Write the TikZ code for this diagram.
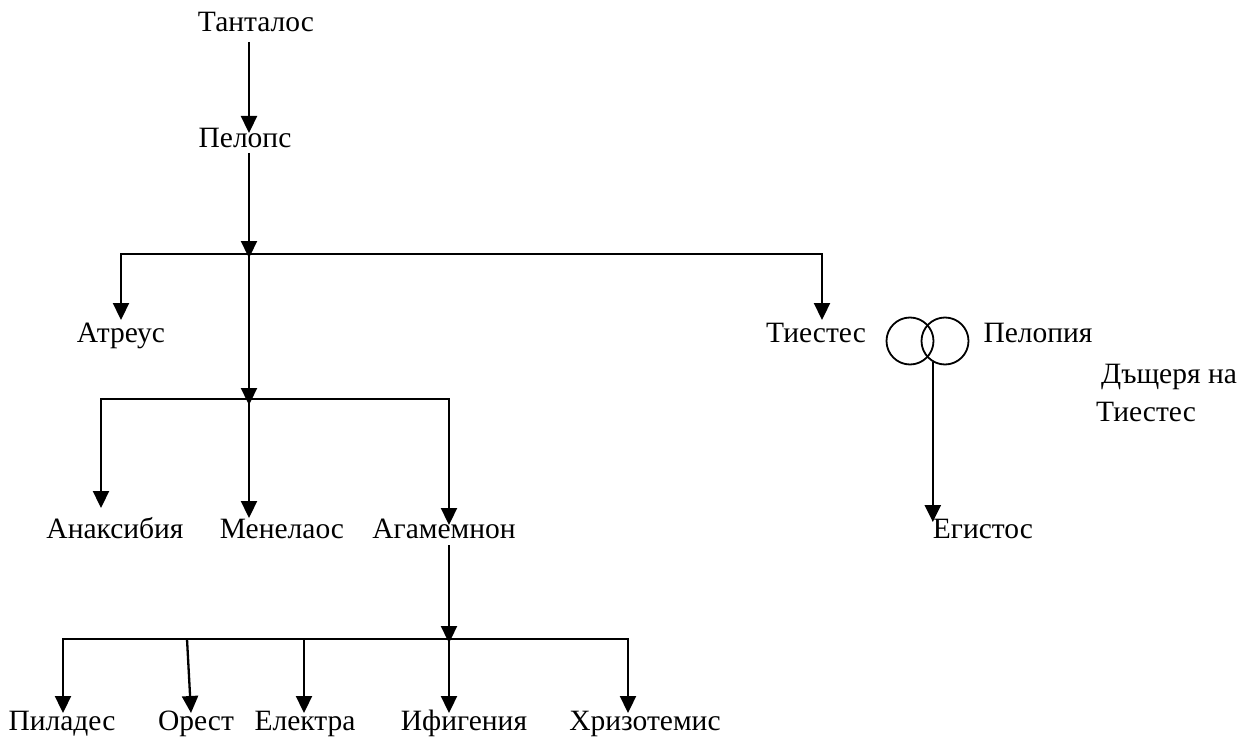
\documentclass[tikz,border=0pt]{standalone}
\usepackage{fontspec}
\setmainfont{Liberation Serif}
\usetikzlibrary{arrows.meta,calc}
\begin{document}
\begin{tikzpicture}[x=1pt,y=-1pt,
  lbl/.style={inner sep=0pt, anchor=base, font=\fontsize{29.5}{34}\selectfont},
  arr/.style={-{Triangle[width=16pt,length=17pt]}, line width=2.3pt, line join=miter},
  ring/.style={circle, draw, line width=1.8pt, minimum size=47pt, inner sep=0pt}]
\useasboundingbox (0,0) rectangle (1242,738);
\fill[white] (0,0) rectangle (1242,738);

% names
\node[lbl] (tantalos) at (256,32) {Танталос};
\node[lbl] (pelops) at (245,148) {Пелопс};
\node[lbl] (atreus) at (121,342) {Атреус};
\node[lbl] (tiestes) at (816,342) {Тиестес};
\node[lbl] (pelopia) at (1038,342) {Пелопия};
\node[lbl] (dashtera) at (1169,383) {Дъщеря на};
\node[lbl] (tiestesb) at (1146,421) {Тиестес};
\node[lbl] (anax) at (115,538) {Анаксибия};
\node[lbl] (menelaos) at (282,538) {Менелаос};
\node[lbl] (agam) at (444,538) {Агамемнон};
\node[lbl] (egistos) at (983,538) {Егистос};
\node[lbl] (pil) at (62,730) {Пиладес};
\node[lbl] (orest) at (196,730) {Орест};
\node[lbl] (elektra) at (305,730) {Електра};
\node[lbl] (ifig) at (464,730) {Ифигения};
\node[lbl] (hriz) at (645,730) {Хризотемис};

\node[ring] (c1) at (910,341) {};
\node[ring] (c2) at (945,341) {};

% junctions
\coordinate (j1) at (249,254);
\coordinate (j2) at (249,399);
\coordinate (j3) at (449,639);

% connectors
\draw[arr] ($(tantalos.base -| j1)+(0,10)$) -- ($(pelops.base -| j1)+(0,-15)$);
\draw[arr] ($(pelops.base -| j1)+(0,5)$) -- ($(j1)+(0,4)$);
\draw[arr] (j1) -| ($(atreus.base)+(0,-22)$);
\draw[arr] (j1) -| ($(tiestes.base)+(6,-22)$);
\draw[arr] (j1) -- ($(j2)+(0,6)$);
\draw[arr] (j2) -| ($(anax.base)+(-14,-30)$);
\draw[arr] (j2) -- ($(menelaos.base -| j2)+(0,-20)$);
\draw[arr] (j2) -| ($(agam.base -| j3)+(0,-13)$);
\draw[arr] ($(agam.base -| j3)+(0,7)$) -- ($(j3)+(0,4)$);
\draw[arr] (j3) -| ($(pil.base)+(1,-17)$);
\draw[arr] (j3) -| ($(hriz.base)+(-17,-17)$);
\draw[arr] ($(j3)+(-262,0)$) -- ($(orest.base)+(-5,-17)$);
\draw[arr] ($(elektra.base |- j3)+(-1,0)$) -- ($(elektra.base)+(-1,-17)$);
\draw[arr] (j3) -- ($(ifig.base -| j3)+(0,-17)$);
\draw[arr] (c2.240) -- ($(egistos.base -| c2.240)+(0,-16)$);
\end{tikzpicture}
\end{document}
